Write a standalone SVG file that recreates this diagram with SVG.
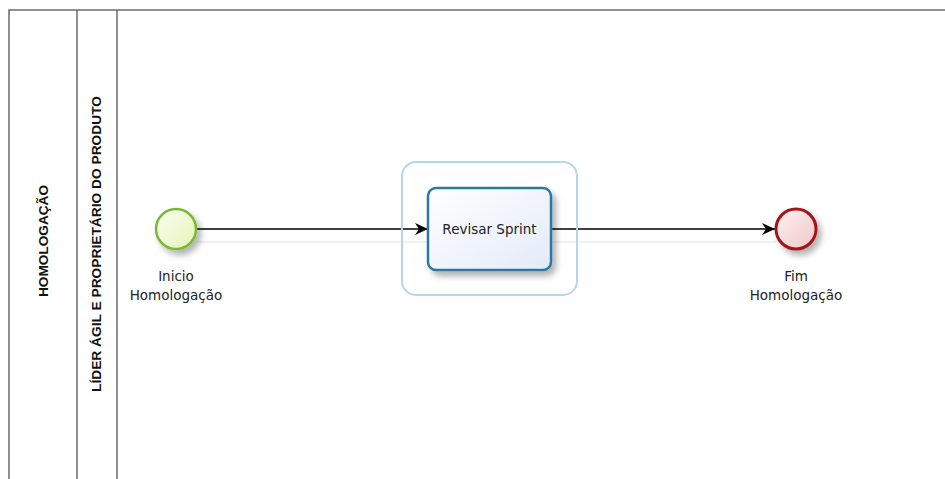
<svg xmlns="http://www.w3.org/2000/svg" width="945" height="479" viewBox="0 0 945 479">
<style>
.lane{fill:none;stroke:#6b6b6b;stroke-width:1.5}
.lbl{font-family:"DejaVu Sans",sans-serif;font-size:13.5px;fill:#222;text-anchor:middle}
.lanelbl{font-family:"Liberation Sans",Arial,sans-serif;font-weight:bold;font-size:13px;fill:#111;text-anchor:middle}
.flow{fill:none;stroke:#000;stroke-width:1.3}
.flowsh{fill:none;stroke:#ececec;stroke-width:1.5}
</style>
<defs>
<linearGradient id="gStart" x1="0" y1="0" x2="1" y2="1"><stop offset="0" stop-color="#fbfef0"/><stop offset="1" stop-color="#e4f4b8"/></linearGradient>
<linearGradient id="gEnd" x1="0" y1="0" x2="1" y2="1"><stop offset="0" stop-color="#fdf2f2"/><stop offset="1" stop-color="#f1c6c8"/></linearGradient>
<linearGradient id="gTask" x1="0" y1="0" x2="1" y2="1"><stop offset="0" stop-color="#ffffff"/><stop offset="1" stop-color="#e3eaf8"/></linearGradient>
<filter id="sh" x="-30%" y="-30%" width="170%" height="170%"><feGaussianBlur in="SourceAlpha" stdDeviation="3"/><feOffset dx="4" dy="5"/><feComponentTransfer><feFuncA type="linear" slope="0.3"/></feComponentTransfer><feMerge><feMergeNode/><feMergeNode in="SourceGraphic"/></feMerge></filter>
<marker id="arr" markerWidth="14" markerHeight="12" refX="13" refY="6" orient="auto" markerUnits="userSpaceOnUse"><path d="M0,0 L13,6 L0,12 L4,6 Z" fill="#000"/></marker>
</defs>
<g id="pool">
<path class="lane" d="M945,10 H9 V479"/>
<line class="lane" x1="77" y1="10" x2="77" y2="479"/>
<line class="lane" x1="117" y1="10" x2="117" y2="479" stroke="#8a8a8a"/>
<text class="lanelbl" transform="translate(48,241) rotate(-90)" textLength="112" lengthAdjust="spacingAndGlyphs">HOMOLOGAÇÃO</text>
<text class="lanelbl" transform="translate(101,244) rotate(-90)" textLength="296" lengthAdjust="spacingAndGlyphs">LÍDER ÁGIL E PROPRIETÁRIO DO PRODUTO</text>
</g>
<g id="connectors">
<line class="flowsh" x1="197" y1="242" x2="428" y2="242"/>
<line class="flowsh" x1="551" y1="242" x2="776" y2="242"/>
<line class="flow" x1="197" y1="229" x2="428" y2="229" marker-end="url(#arr)"/>
<line class="flow" x1="551" y1="229" x2="775" y2="229" marker-end="url(#arr)"/>
</g>
<g id="start">
<circle cx="176" cy="229" r="20" fill="url(#gStart)" stroke="#79b830" stroke-width="2.5" filter="url(#sh)"/>
<text class="lbl" x="176" y="281">Inicio</text>
<text class="lbl" x="176" y="300">Homologação</text>
</g>
<g id="task">
<rect x="402" y="162" width="175" height="133" rx="14" fill="none" stroke="#b6d7e6" stroke-width="2"/>
<rect x="428" y="188" width="123" height="82" rx="8" fill="url(#gTask)" stroke="#2c78a6" stroke-width="2.5" filter="url(#sh)"/>
<text class="lbl" x="489.5" y="234">Revisar Sprint</text>
</g>
<g id="end">
<circle cx="796" cy="229" r="20" fill="url(#gEnd)" stroke="#a31318" stroke-width="3" filter="url(#sh)"/>
<text class="lbl" x="796" y="281">Fim</text>
<text class="lbl" x="796" y="300">Homologação</text>
</g>
</svg>
